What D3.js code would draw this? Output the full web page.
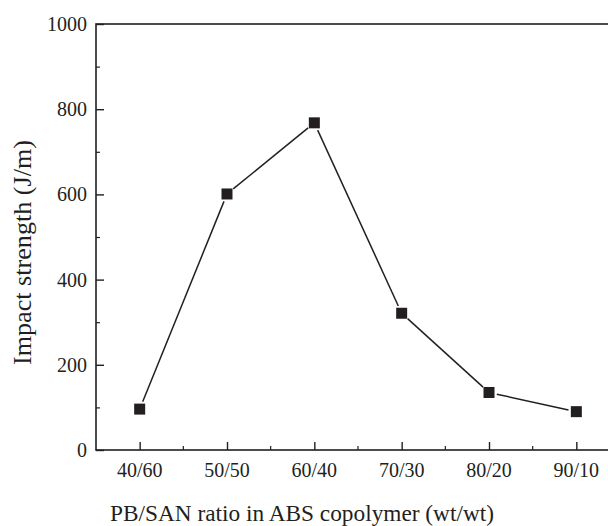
<!DOCTYPE html>
<html><head><meta charset="utf-8">
<script src="https://cdn.jsdelivr.net/npm/d3@7"></script>
<style>body{margin:0;background:#fff}svg{display:block}</style>
</head><body>
<svg id="c" width="608" height="526"></svg>
<script>
const categories = ["40/60","50/50","60/40","70/30","80/20","90/10"];
const impact = [96, 601, 768, 321, 135, 90];
const yTicks = [0,200,400,600,800,1000];
const yMinor = [100,300,500,700,900];

const svg = d3.select("#c");
const L=96, R=620, T=24, B=450;
const x = d3.scalePoint().domain(categories).range([L,R]).padding(0.5);
const y = d3.scaleLinear().domain([0,1000]).range([B,T]);
const ink = "#231f20";
const font = "'Liberation Serif','Times New Roman',serif";

// frame
svg.append("rect").attr("x",L).attr("y",T).attr("width",R-L).attr("height",B-T)
  .attr("fill","none").attr("stroke",ink).attr("stroke-width",1.6);

// y axis
const yAx = svg.append("g").attr("transform",`translate(${L},0)`)
  .call(d3.axisRight(y).tickValues(yTicks).tickSize(8).tickFormat(""));
yAx.select(".domain").remove();
yAx.selectAll("line").attr("stroke",ink).attr("stroke-width",1.4);
const yAxm = svg.append("g").attr("transform",`translate(${L},0)`)
  .call(d3.axisRight(y).tickValues(yMinor).tickSize(4).tickFormat(""));
yAxm.select(".domain").remove();
yAxm.selectAll("line").attr("stroke",ink).attr("stroke-width",1.2);
svg.append("g").selectAll("text").data(yTicks).join("text")
  .attr("x",L-9).attr("y",d=>y(d)).attr("dy","0.35em").attr("text-anchor","end")
  .attr("font-family",font).attr("font-size",20).attr("fill",ink).text(d=>d);

// x axis
const xAx = svg.append("g").attr("transform",`translate(0,${B})`)
  .call(d3.axisTop(x).tickSize(8).tickFormat(""));
xAx.select(".domain").remove();
xAx.selectAll("line").attr("stroke",ink).attr("stroke-width",1.4);
const step = x.step();
const xMinor = categories.slice(0,-1).map(c=>x(c)+step/2);
svg.append("g").selectAll("line").data(xMinor).join("line")
  .attr("x1",d=>d).attr("x2",d=>d).attr("y1",B).attr("y2",B-4)
  .attr("stroke",ink).attr("stroke-width",1.2);
svg.append("g").selectAll("text").data(categories).join("text")
  .attr("x",d=>x(d)).attr("y",477).attr("text-anchor","middle")
  .attr("font-family",font).attr("font-size",20).attr("fill",ink).text(d=>d);

// titles
svg.append("text").attr("x",302).attr("y",521).attr("text-anchor","middle")
  .attr("font-family",font).attr("font-size",23.5).attr("fill",ink)
  .attr("textLength",384).attr("lengthAdjust","spacingAndGlyphs")
  .text("PB/SAN ratio in ABS copolymer (wt/wt)");
svg.append("text").attr("transform","translate(31,252.5) rotate(-90)").attr("text-anchor","middle")
  .attr("font-family",font).attr("font-size",26).attr("fill",ink)
  .attr("textLength",225).attr("lengthAdjust","spacingAndGlyphs")
  .text("Impact strength (J/m)");

// line with gaps
const pts = categories.map((c,i)=>[x(c), y(impact[i])]);
const gap = 8;
const segs = d3.pairs(pts).map(([a,b])=>{
  const dx=b[0]-a[0], dy=b[1]-a[1], len=Math.hypot(dx,dy);
  const ux=dx/len, uy=dy/len;
  return [a[0]+ux*gap, a[1]+uy*gap, b[0]-ux*gap, b[1]-uy*gap];
});
svg.append("g").selectAll("line").data(segs).join("line")
  .attr("x1",d=>d[0]).attr("y1",d=>d[1]).attr("x2",d=>d[2]).attr("y2",d=>d[3])
  .attr("stroke",ink).attr("stroke-width",1.5);

// markers
const ms = 11;
svg.append("g").selectAll("rect").data(categories).join("rect")
  .attr("x",d=>x(d)-ms/2).attr("y",(d,i)=>y(impact[i])-ms/2)
  .attr("width",ms).attr("height",ms).attr("fill",ink);
</script>
</body></html>
